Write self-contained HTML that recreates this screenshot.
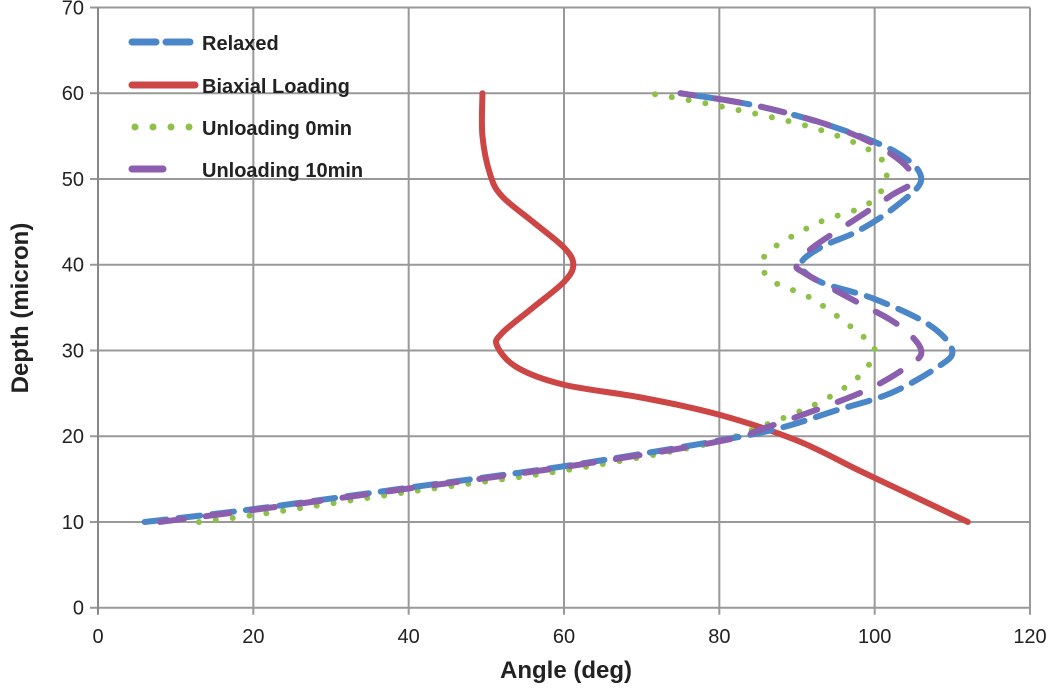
<!DOCTYPE html>
<html><head><meta charset="utf-8"><style>
body{margin:0;background:#fff;}
svg text{font-family:"Liberation Sans",sans-serif;}
</style></head><body>
<svg id="chart" width="1050" height="690" xmlns="http://www.w3.org/2000/svg">
<g id="grid"></g>
<g id="axes"></g>
<g id="series"></g>
<text x="566" y="678" font-size="24" font-weight="bold" text-anchor="middle" fill="#222">Angle (deg)</text>
<text transform="translate(28,308) rotate(-90)" font-size="24" font-weight="bold" text-anchor="middle" fill="#222">Depth (micron)</text>
<g>
<g><line x1="132" y1="42" x2="190" y2="42" stroke="#4a86c8" stroke-width="7" stroke-dasharray="24,10" stroke-linecap="round"/><text x="202" y="50" font-size="20" font-weight="bold" fill="#222">Relaxed</text></g>
<g><line x1="132" y1="85" x2="195" y2="85" stroke="#cd4646" stroke-width="7" stroke-linecap="round"/><text x="202" y="93" font-size="20" font-weight="bold" fill="#222">Biaxial Loading</text></g>
<g><line x1="135" y1="127" x2="192" y2="127" stroke="#8dc046" stroke-width="7" stroke-dasharray="0,18" stroke-linecap="round"/><text x="202" y="135" font-size="20" font-weight="bold" fill="#222">Unloading 0min</text></g>
<g><line x1="132" y1="169" x2="163" y2="169" stroke="#8b5fae" stroke-width="7" stroke-linecap="round"/><text x="202" y="177" font-size="20" font-weight="bold" fill="#222">Unloading 10min</text></g>
</g>
</svg>
<script>
const xTicks=[0,20,40,60,80,100,120];
const yTicks=[0,10,20,30,40,50,60,70];
const relaxedAngle=[6,20,40,60,80,88,95,102,108,110,107,100,93,90.5,93,98,103,106,103,95,85,75];
const relaxedDepth=[10,11.5,14,16.5,19.5,21,23,25,28,30,33,36,38,40,42,44,47,50,53,56,58.5,60];
const unload10Angle=[8,20,40,60,80,86,98,104,106,103,97,91,90,92,97,102,105,102,95,85,75];
const unload10Depth=[10,11.4,13.9,16.4,19.4,21,25,28,30,33,36,39,40,42,45,48,50,53,56,58.5,60];
const unload0Angle=[13,20,40,60,78,85,93,98,100,98,92,87,85.5,87,93,99,101.5,100,92,80,71];
const unload0Depth=[10,10.8,13.5,16,19,21,24,27,30,32,36,38,40,42,45,47,50,53,56,58.5,60];
const biaxialAngle=[112,105,98,90,80,70,60,54,51.4,52,56,60,61.2,60,56,52,50.5,49.5,49.5];
const biaxialDepth=[10,13,16,19.5,22.5,24.5,26,28,30.5,32,35,38,40,42,45,48,50.5,55,60];
const X0=98,X1=1030,Y0=607.7,Y1=7.5;
const sx=v=>X0+(X1-X0)*v/120, sy=v=>Y0+(Y1-Y0)*v/70;
const NS="http://www.w3.org/2000/svg";
function mk(t,a,p){const e=document.createElementNS(NS,t);for(const k in a)e.setAttribute(k,a[k]);p.appendChild(e);return e;}
const grid=document.getElementById('grid'),axes=document.getElementById('axes'),ser=document.getElementById('series');
xTicks.forEach(t=>{
 if(t>0){const l=mk('line',{x1:sx(t),x2:sx(t),y1:Y1,y2:Y0+7,stroke:'#999','stroke-width':2},grid);
 
 }
 const tx=mk('text',{x:sx(t),y:643,'font-size':20,'text-anchor':'middle',fill:'#222'},axes);tx.textContent=t;
 
 
});
yTicks.forEach(t=>{
 const l=mk('line',{x1:X0-8,x2:X1,y1:sy(t),y2:sy(t),stroke:'#999','stroke-width':2},grid);
 
 
 const tx=mk('text',{x:84,y:sy(t)+7,'font-size':20,'text-anchor':'end',fill:'#222'},axes);tx.textContent=t;
 
 
});
const ya=mk('line',{x1:X0,x2:X0,y1:Y1,y2:Y0+7,stroke:'#888','stroke-width':2},axes);


function path(xs,ys){const p=xs.map((x,i)=>[sx(x),sy(ys[i])]);let d='M'+p[0][0]+','+p[0][1];
 for(let i=0;i<p.length-1;i++){const a=p[i-1]||p[i],b=p[i],c=p[i+1],e=p[i+2]||c;
 d+=' C'+(b[0]+(c[0]-a[0])/6)+','+(b[1]+(c[1]-a[1])/6)+' '+(c[0]-(e[0]-b[0])/6)+','+(c[1]-(e[1]-b[1])/6)+' '+c[0]+','+c[1];}return d;}
const s=[
 [biaxialAngle,biaxialDepth,'#cd4646','','series-biaxial-loading'],
 [unload0Angle,unload0Depth,'#8dc046','0,17','series-unloading-0min'],
 [relaxedAngle,relaxedDepth,'#4a86c8','22,12','series-relaxed'],
 [unload10Angle,unload10Depth,'#8b5fae','24,22','series-unloading-10min']];
s.forEach(q=>{const a={d:path(q[0],q[1]),fill:'none',stroke:q[2],'stroke-width':6,'stroke-linecap':'round'};if(q[3])a['stroke-dasharray']=q[3];
 const e=mk('path',a,ser);
 
 });
</script>
</body></html>
